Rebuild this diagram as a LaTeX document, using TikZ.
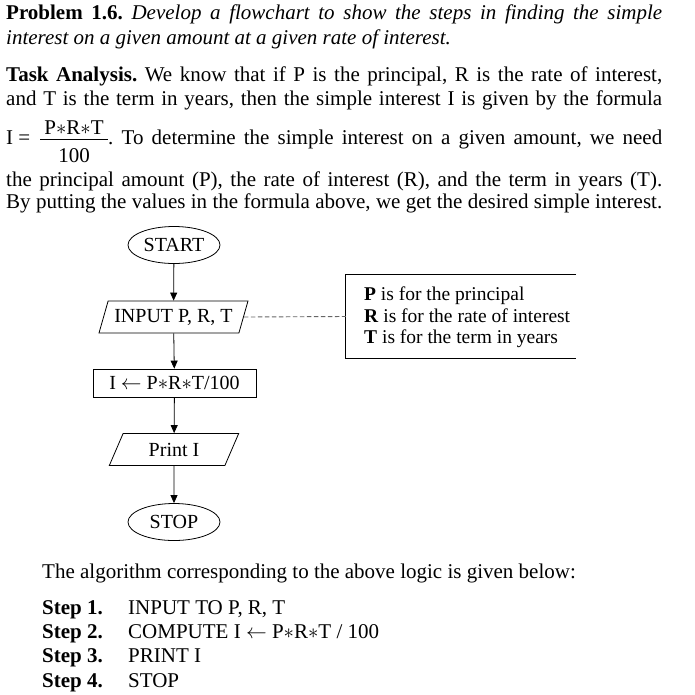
\documentclass[tikz,border=0pt]{standalone}
\usepackage{fontspec}
\setmainfont{Liberation Serif}
\usetikzlibrary{shapes.geometric,arrows.meta}
\newcommand{\fsbody}{\fontsize{21}{25}\selectfont\frenchspacing}
\newcommand{\fschart}{\fontsize{20}{24}\selectfont}
\newcommand{\fsleg}{\fontsize{19.5}{23}\selectfont}
\newcommand{\mast}{\ensuremath{\ast}}
\begin{document}
\begin{tikzpicture}[x=1pt,y=-1pt,
  txt/.style={anchor=base west, inner sep=0pt, font=\fsbody},
  term/.style={ellipse, draw, line width=0.8pt, minimum width=92pt, minimum height=37pt, inner sep=0pt, font=\fschart},
  iobox/.style={trapezium, trapezium left angle=63, trapezium right angle=117, trapezium stretches=true, draw, line width=0.8pt, minimum height=32pt, inner sep=0pt, font=\fschart},
  procbox/.style={rectangle, draw, line width=0.8pt, minimum width=163pt, minimum height=28pt, inner sep=0pt, font=\fschart},
  arr/.style={-{Triangle[length=8pt,width=7pt]}, line width=0.8pt},
  legtxt/.style={anchor=base west, inner sep=0pt, font=\fsleg}]
\useasboundingbox (0,0) rectangle (695,694);
% paragraph text
\node[txt] (l1) at (6,19) {\makebox[656pt][s]{\textbf{Problem 1.6.} \textit{Develop a flowchart to show the steps in finding the simple}}};
\node[txt] (l2) at (6,44) {\textit{interest on a given amount at a given rate of interest.}};
\node[txt] (l3) at (6,81) {\makebox[656pt][s]{\textbf{Task Analysis.} We know that if P is the principal, R is the rate of interest,}};
\node[txt] (l4) at (6,105) {\makebox[656pt][s]{and T is the term in years, then the simple interest I is given by the formula}};
\node[txt] (l5a) at (6,144) {I =};
\node[anchor=base, inner sep=0pt, font=\fsbody] (num) at (74,134) {P\mast R\mast T};
\node[anchor=base, inner sep=0pt, font=\fsbody] (den) at (74,162) {100};
\draw[line width=0.8pt] (40,139) -- (108,139);
\node[txt] (l5b) at (108,144) {\makebox[554pt][s]{. To determine the simple interest on a given amount, we need}};
\node[txt] (l6) at (6,186) {\makebox[656pt][s]{the principal amount (P), the rate of interest (R), and the term in years (T).}};
\node[txt] (l7) at (6,208) {\makebox[656pt][s]{By putting the values in the formula above, we get the desired simple interest.}};
% flowchart
\node[term] (start) at (174,245) {START};
\node[iobox, minimum width=149pt] (input) at (173.5,317) {INPUT P, R, T};
\node[procbox] (comp) at (174.5,383) {I $\leftarrow$ P\mast R\mast T/100};
\node[iobox, minimum width=130pt] (print) at (174,449.5) {Print I};
\node[term] (stop) at (174,522) {STOP};
\draw[arr] (start) -- (input);
\draw[arr] (input) -- (comp);
\draw[arr] (comp) -- (print);
\draw[arr] (print) -- (stop);
% legend
\node[rectangle, minimum width=230pt, minimum height=83pt, inner sep=0pt] (legend) at (461,316.5) {};
\draw[line width=0.8pt] (legend.north east) -- (legend.north west) -- (legend.south west) -- (legend.south east);
\draw[dash pattern=on 4.5pt off 2.5pt, line width=0.9pt, black!60] (input.east) -- (legend.west);
\node[legtxt] (lg1) at (364,300) {\textbf{P} is for the principal};
\node[legtxt] (lg2) at (364,322) {\textbf{R} is for the rate of interest};
\node[legtxt] (lg3) at (364,343) {\textbf{T} is for the term in years};
% algorithm
\node[txt] (alg) at (42,578) {The algorithm corresponding to the above logic is given below:};
\node[txt] (s1) at (42,614) {\textbf{Step 1.}};
\node[txt] (s2) at (42,638) {\textbf{Step 2.}};
\node[txt] (s3) at (42,662) {\textbf{Step 3.}};
\node[txt] (s4) at (42,687) {\textbf{Step 4.}};
\node[txt] (t1) at (128,614) {INPUT TO P, R, T};
\node[txt] (t2) at (128,638) {COMPUTE I $\leftarrow$ P\mast R\mast T / 100};
\node[txt] (t3) at (128,662) {PRINT I};
\node[txt] (t4) at (128,687) {STOP};
\end{tikzpicture}
\end{document}
